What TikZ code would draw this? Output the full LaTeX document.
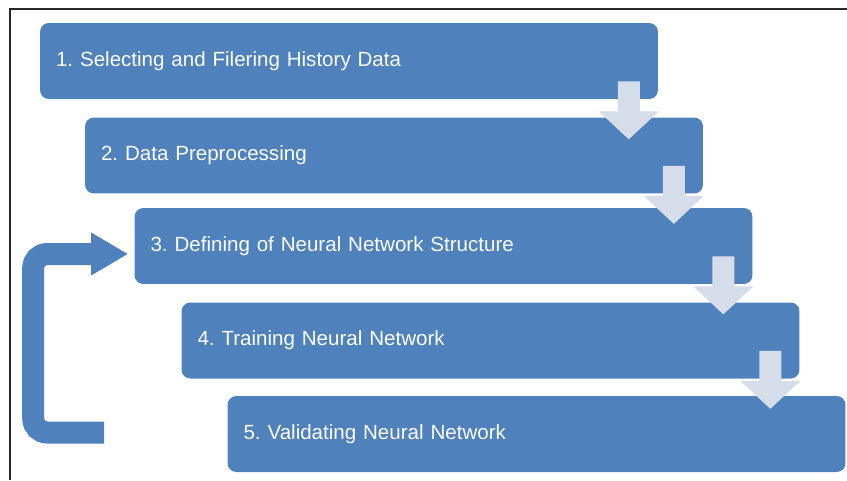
\documentclass[tikz,border=0pt]{standalone}
\usepackage{fontspec}
\setmainfont{Liberation Sans}
\usepackage{tikz}
\usetikzlibrary{arrows.meta, positioning, calc}
\definecolor{myblue}{RGB}{79,129,189}
\definecolor{mylight}{RGB}{214,221,234}
\definecolor{myframe}{RGB}{40,40,40}
\frenchspacing
\tikzset{
  stepbox/.style={rectangle, fill=myblue, text=white,
    minimum width=12.36cm, minimum height=1.52cm, text width=11.72cm,
    inner xsep=0.32cm, align=left, rounded corners=5pt,
    font=\fontsize{11.7}{14}\selectfont},
  downarrow/.style={fill=mylight},
  looparrow/.style={draw=myblue, line width=0.44cm, rounded corners=0.28cm,
    -{Triangle[length=0.74cm, width=0.8cm]}}
}

\begin{document}
\begin{tikzpicture}[x=0.02cm, y=-0.02cm]
  \useasboundingbox (0,0) rectangle (847,480);
  % Frame
  \draw[myframe, line width=1.2pt] (10,480) -- (10,9) -- (847,9);

  % Steps
  \node[stepbox] (b1) at (349,61) {1. Selecting and Filering History Data};
  \node[stepbox] (b2) at (394,155.5) {2. Data Preprocessing};
  \node[stepbox] (b3) at (443.5,246) {3. Defining of Neural Network Structure};
  \node[stepbox] (b4) at (490.5,340.5) {4. Training Neural Network};
  \node[stepbox] (b5) at (536.5,434) {5. Validating Neural Network};

  % Block arrows between steps
  \foreach \b/\dy in {b1/10, b2/0, b3/0, b4/0}
    \fill[downarrow] ($(\b.south east)+(-40.5,-28+\dy)$) -- ++(22,0) -- ++(0,30)
      -- ++(19,0) -- ++(-30,28) -- ++(-30,-28) -- ++(19,0) -- cycle;

  % Loop back from validation to structure
  \coordinate (loopstart) at ($(b5.west)+(-123,-1.5)$);
  \coordinate (loopend) at ($(b3.west)+(-6,8)$);
  \draw[looparrow] (loopstart) -| ($(loopend)+(-95,0)$) -- (loopend);
\end{tikzpicture}
\end{document}
